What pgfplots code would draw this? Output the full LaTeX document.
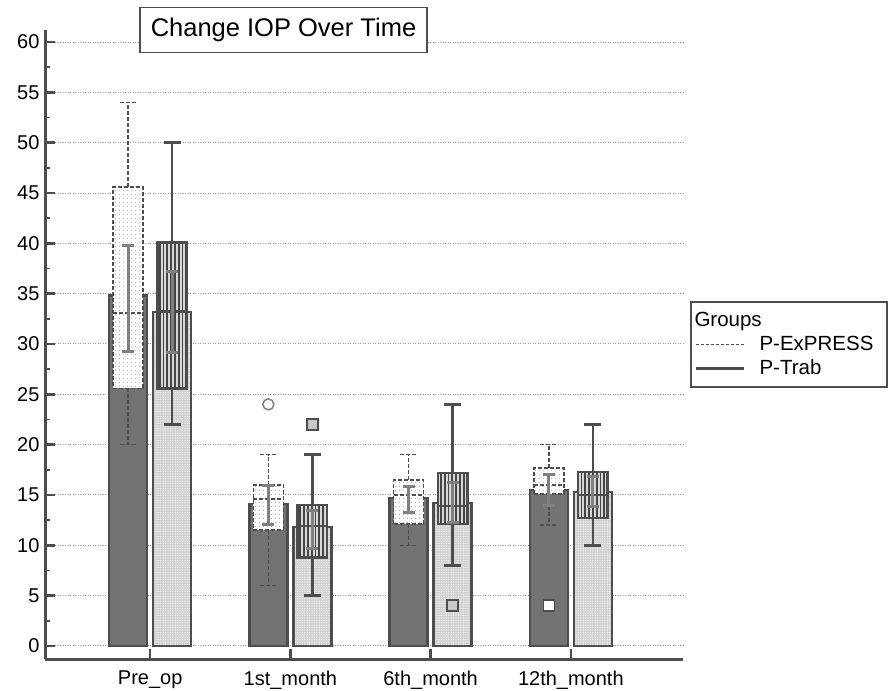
\documentclass[border=0pt]{standalone}
\usepackage{fontspec}
\setmainfont{Liberation Sans}
\usepackage{pgfplots}
\pgfplotsset{compat=1.18}
\usetikzlibrary{patterns,patterns.meta}

\definecolor{barDark}{HTML}{737373}
\definecolor{edge}{HTML}{4D4D4D}
\definecolor{barLight}{HTML}{D2D2D2}
\definecolor{errGray}{HTML}{808080}
\definecolor{gridGray}{HTML}{9A9A9A}
\definecolor{stripeDark}{HTML}{444444}
\definecolor{stripeLight}{HTML}{D8D8D8}
\definecolor{dotGray}{HTML}{B0B0B0}
\definecolor{outGray}{HTML}{C8C8C8}

\pgfplotsset{
 expbox/.style={forget plot, draw=edge, line width=1.5pt, dash pattern=on 4pt off 2pt,
   preaction={fill=white}, pattern={Dots[radius=0.65pt, distance=4pt]}, pattern color=dotGray},
 trabbox/.style={forget plot, draw=edge, line width=2.6pt, solid,
   preaction={fill=stripeLight}, pattern={Lines[angle=90, distance=3.8pt, line width=1.8pt]}, pattern color=stripeDark},
}

\begin{document}
\begin{tikzpicture}
\begin{axis}[
 at={(45pt,31pt)}, anchor=south west,
 width=638pt, height=629pt, scale only axis,
 xmin=-0.75, xmax=3.8, ymin=-1.3, ymax=61.2,
 axis x line*=bottom, axis y line*=left,
 axis line style={-, line width=3pt, color=edge},
 xtick={0,1,2,3},
 xticklabels={Pre\_op, 1st\_month, 6th\_month, 12th\_month},
 xticklabel style={yshift=-8pt},
 yticklabel style={xshift=-2pt},
 ytick={0,5,...,60},
 minor y tick num=1,
 tick align=inside,
 major tick length=10pt, minor tick length=5pt,
 every major tick/.append style={line width=2.5pt, color=edge},
 every minor tick/.append style={line width=1.5pt, color=edge},
 ymajorgrids,
 major grid style={color=gridGray, line width=1pt, dash pattern=on 1pt off 1.5pt},
 tick label style={font=\fontsize{20}{23}\selectfont, color=black},
 /pgf/number format/assume math mode=true,
 unbounded coords=jump,
 legend style={at={(1.011,0.5)}, anchor=west, draw=edge, line width=2pt,
   font=\fontsize{20.5}{24}\selectfont, legend cell align=left,
   inner ysep=8.5pt, row sep=4pt},
 legend image code/.code={\draw[#1] (0pt,0pt) -- (48pt,0pt); \path[draw=none] (0pt,0pt) -- (62pt,0pt);},
]
% bars (means)
\addplot[forget plot, ybar, bar width=38pt, bar shift=-22pt, fill=barDark, draw=edge, line width=2.5pt]
 coordinates {(0,34.8) (1,14.1) (2,14.7) (3,15.5)};
\addplot[forget plot, ybar, bar width=38pt, bar shift=22pt, draw=edge, line width=2.5pt,
 preaction={fill=barLight}, pattern={Dots[radius=0.55pt, distance=2.4pt]}, pattern color=white]
 coordinates {(0,33.2) (1,11.8) (2,14.2) (3,15.3)};

% P-ExPRESS boxes (interquartile range)
\addplot[expbox] coordinates {(-0.264,25.6) (-0.050,25.6) (-0.050,45.6) (-0.264,45.6)} -- cycle;
\addplot[expbox] coordinates {(0.736,11.5) (0.950,11.5) (0.950,16.0) (0.736,16.0)} -- cycle;
\addplot[expbox] coordinates {(1.736,12.1) (1.950,12.1) (1.950,16.5) (1.736,16.5)} -- cycle;
\addplot[expbox] coordinates {(2.736,15.1) (2.950,15.1) (2.950,17.7) (2.736,17.7)} -- cycle;

% P-Trab boxes
\addplot[trabbox] coordinates {(0.052,25.6) (0.262,25.6) (0.262,40.1) (0.052,40.1)} -- cycle;
\addplot[trabbox] coordinates {(1.052,8.8) (1.262,8.8) (1.262,14.0) (1.052,14.0)} -- cycle;
\addplot[trabbox] coordinates {(2.052,12.1) (2.262,12.1) (2.262,17.2) (2.052,17.2)} -- cycle;
\addplot[trabbox] coordinates {(3.052,12.7) (3.262,12.7) (3.262,17.3) (3.052,17.3)} -- cycle;

% P-ExPRESS whiskers and medians
\addplot[forget plot, draw=edge, line width=1.5pt, dash pattern=on 4pt off 2pt] table {
x y
-0.157 45.6
-0.157 54
nan nan
-0.217 54
-0.097 54
nan nan
-0.157 25.6
-0.157 20
nan nan
-0.217 20
-0.097 20
nan nan
-0.264 33.1
-0.050 33.1
nan nan
0.843 16.0
0.843 19
nan nan
0.783 19
0.903 19
nan nan
0.843 11.5
0.843 6
nan nan
0.783 6
0.903 6
nan nan
0.736 14.6
0.950 14.6
nan nan
1.843 16.5
1.843 19
nan nan
1.783 19
1.903 19
nan nan
1.843 12.1
1.843 10
nan nan
1.783 10
1.903 10
nan nan
1.736 15.0
1.950 15.0
nan nan
2.843 17.7
2.843 20
nan nan
2.783 20
2.903 20
nan nan
2.843 15.1
2.843 12
nan nan
2.783 12
2.903 12
nan nan
2.736 16.0
2.950 16.0
};

% P-Trab whiskers and medians
\addplot[forget plot, draw=edge, line width=2.6pt, solid] table {
x y
0.157 40.1
0.157 50
nan nan
0.097 50
0.217 50
nan nan
0.157 25.6
0.157 22
nan nan
0.097 22
0.217 22
nan nan
0.052 33.2
0.262 33.2
nan nan
1.157 14.0
1.157 19
nan nan
1.097 19
1.217 19
nan nan
1.157 8.8
1.157 5
nan nan
1.097 5
1.217 5
nan nan
1.052 11.9
1.262 11.9
nan nan
2.157 17.2
2.157 24
nan nan
2.097 24
2.217 24
nan nan
2.157 12.1
2.157 8
nan nan
2.097 8
2.217 8
nan nan
2.052 13.9
2.262 13.9
nan nan
3.157 17.3
3.157 22
nan nan
3.097 22
3.217 22
nan nan
3.157 12.7
3.157 10
nan nan
3.097 10
3.217 10
nan nan
3.052 15.0
3.262 15.0
};

% error bars (confidence intervals of the means)
\addplot[forget plot, draw=none, mark=none,
 error bars/.cd, y dir=both, y explicit,
 error bar style={draw=errGray, line width=3pt, solid},
 error mark options={rotate=90, draw=errGray, line width=3pt, mark size=6pt, solid}]
 coordinates {
 (-0.157,34.55) +- (0,5.25)
 (0.843,14.0) +- (0,1.9)
 (1.843,14.55) +- (0,1.25)
 (2.843,15.5) +- (0,1.5)
 (0.157,33.2) +- (0,4.0)
 (1.157,11.6) +- (0,1.9)
 (2.157,14.25) +- (0,1.95)
 (3.157,15.35) +- (0,1.45)
 };

% outliers
\addplot[forget plot, only marks, mark=*, mark size=5.5pt, mark options={draw=errGray, line width=1.5pt, fill=white}]
 coordinates {(0.843,24)};
\addplot[forget plot, only marks, mark=square*, mark size=5.5pt, mark options={draw=edge, line width=1.5pt, fill=outGray}]
 coordinates {(1.157,22) (2.157,4)};
\addplot[forget plot, only marks, mark=square*, mark size=5.5pt, mark options={draw=edge, line width=1.5pt, fill=white}]
 coordinates {(2.843,4)};

% legend
\addlegendimage{empty legend}
\addlegendentry{\hspace*{-65pt}Groups}
\addlegendimage{draw=edge, line width=1pt, dash pattern=on 3pt off 2pt}
\addlegendentry{P-ExPRESS\hspace*{9pt}}
\addlegendimage{draw=edge, line width=3pt}
\addlegendentry{P-Trab}
\end{axis}
\node[draw=edge, line width=1.3pt, fill=white, minimum width=287pt, minimum height=45pt,
 font=\fontsize{25.5}{30}\selectfont] at (283.5pt,660pt) {Change IOP Over Time};
\pgfresetboundingbox
\path[use as bounding box] (0,0) rectangle (890pt,690pt);
\end{tikzpicture}
\end{document}
